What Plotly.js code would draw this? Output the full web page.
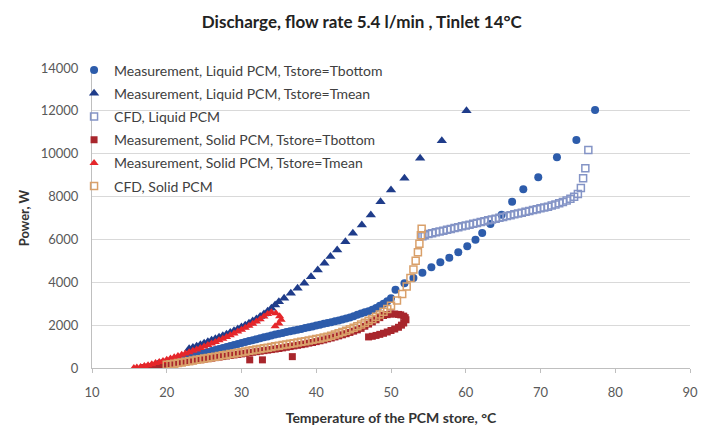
<!DOCTYPE html>
<html><head><meta charset="utf-8">
<script src="https://cdn.plot.ly/plotly-3.0.1.min.js"></script>
<style>html,body{margin:0;padding:0;background:#fff}#chart{width:704px;height:435px}</style>
</head><body><div id="chart"></div>
<script>
// Measurement, Liquid PCM, Tstore=Tbottom
const liqBotX = [19,19.5,20,20.5,21,21.5,22,22.5,23,23.5,24,24.5,25,25.5,26,26.5,27,27.5,28,28.5,29,29.5,30,30.5,31,31.5,32,32.5,33,33.5,34,34.5,35,35.5,36,36.5,37,37.5,38,38.5,39,39.5,40,40.5,41,41.5,42,42.5,43,43.5,44,44.5,45,45.5,46,46.5,47,47.5,48,48.5,49,49.5,50,
  50.6,51.8,53.0,54.2,55.4,56.6,57.8,59.0,60.2,61.3,62.2,63.3,64.8,66.2,67.7,69.7,72.2,74.8,77.3];
const liqBotY = [200,235,270,305,340,380,420,465,510,555,600,650,700,745,790,840,885,935,980,1025,1070,1120,1165,1210,1260,1300,1345,1390,1430,1475,1520,1560,1600,1635,1675,1710,1750,1790,1825,1865,1900,1940,1980,2020,2060,2100,2140,2180,2220,2265,2310,2360,2420,2480,2540,2600,2650,2720,2800,2900,3000,3120,3250,
  3650,3950,4200,4450,4700,4930,5150,5400,5680,5980,6300,6720,7150,7760,8340,8900,9830,10640,12040];

// Measurement, Liquid PCM, Tstore=Tmean
const liqMeanX = [23,23.5,24,24.5,25,25.5,26,26.5,27,27.5,28,28.5,29,29.5,30,30.5,31,31.5,32,32.5,33,33.5,34,34.5,35,
  35.7,36.6,37.5,38.4,39.3,40.2,41.1,41.9,42.8,43.9,44.9,46.1,47.3,48.6,50.0,51.8,53.9,56.8,60.1];
const liqMeanY = [900,960,1020,1090,1160,1230,1300,1370,1440,1510,1580,1660,1740,1820,1910,2000,2090,2190,2290,2400,2520,2650,2790,2940,3090,
  3250,3490,3720,3950,4260,4570,4890,5200,5510,5890,6290,6670,7140,7760,8310,8850,9790,10610,12010];

// CFD, Liquid PCM
const cfdLiqX = [54.2,54.5,55,55.5,56,56.5,57,57.5,58,58.5,59,59.5,60,60.5,61,61.5,62,62.5,63,63.5,64,64.5,65,65.5,66,66.5,67,67.5,68,68.5,69,69.5,70,70.5,71,71.5,72,72.5,73,73.5,74,74.5,75,75.4,75.7,76.0,76.4];
const cfdLiqY = [6150,6200,6250,6290,6330,6370,6410,6450,6490,6530,6570,6610,6650,6690,6730,6770,6810,6850,6890,6930,6970,7010,7050,7090,7130,7170,7210,7250,7290,7330,7370,7410,7450,7490,7530,7580,7630,7690,7750,7820,7900,7990,8120,8400,8850,9320,10170];

// Measurement, Solid PCM, Tstore=Tbottom
const solBotX = [47,47.5,48,48.5,49,49.5,50,50.5,51,51.4,51.7,52,51.9,51.7,51.3,51,50.5,50,49.5,49,48.5,48,47.5,47,46.5,46,45.5,45,44.5,44,43.5,43,42.5,42,41.5,41,40.5,40,39.5,39,38.5,38,37.5,37,36.8,36.5,36,35.5,35,34.5,34,33.5,33,32.8,32.5,32,31.5,31.1,31,30.5,30,29.5,29,28.5,28,27.5,27,26.5,26,25.5,25,24.5,24,23.5,23,22.5,22,21.5,21,20.5,20,19.5,19,18.5,18,17.5,17];
const solBotY = [1450,1480,1520,1570,1620,1680,1750,1820,1900,2000,2100,2250,2350,2420,2480,2500,2520,2520,2490,2450,2350,2250,2150,2050,1950,1850,1780,1720,1660,1600,1550,1500,1450,1400,1360,1310,1270,1230,1190,1160,1120,1090,1060,1030,530,1000,970,940,910,885,860,835,810,380,785,760,735,380,710,685,660,635,610,585,560,535,510,485,460,435,410,385,360,335,310,285,260,235,210,185,160,135,110,85,60,40,20];

// Measurement, Solid PCM, Tstore=Tmean
const solMeanX = [34.5,35.0,35.3,35.1,34.6,34.0,33.5,33.0,32.5,32,31.5,31,30.5,30,29.5,29,28.5,28,27.5,27,26.5,26,25.5,25,24.5,24,23.5,23,22.5,22,21.5,21,20.5,20,19.5,19,18.5,18,17.5,17,16.5,16,15.6];
const solMeanY = [1950,2080,2250,2420,2560,2600,2520,2400,2280,2170,2070,1970,1880,1790,1700,1610,1530,1450,1370,1290,1210,1140,1070,1000,930,860,800,740,680,620,560,500,440,380,330,280,230,180,130,90,50,20,0];

// CFD, Solid PCM
const cfdSolX = [54.1,54.0,53.8,53.6,53.3,53.0,52.6,52.1,51.5,50.8,50,49.5,49,48.5,48,47.5,47,46.5,46,45.5,45,44.5,44,43.5,43,42.5,42,41.5,41,40.5,40,39.5,39,38.5,38,37.5,37,36.5,36,35.5,35,34.5,34,33.5,33,32.5,32,31.5,31,30.5,30,29.5,29,28.5,28,27.5,27,26.5,26,25.5,25,24.5,24,23.5,23,22.5,22,21.5,21,20.5,20];
const cfdSolY = [6500,6200,5800,5400,5000,4600,4200,3800,3450,3150,2900,2750,2620,2500,2390,2290,2200,2110,2030,1950,1880,1810,1740,1680,1620,1560,1500,1460,1420,1380,1350,1320,1280,1250,1220,1190,1160,1130,1100,1070,1040,1010,980,950,920,890,860,830,800,770,740,710,680,650,620,590,560,530,500,470,440,410,380,350,320,290,260,230,200,175,150];

const seriesNames = [
  'Measurement, Liquid PCM, Tstore=Tbottom',
  'Measurement, Liquid PCM, Tstore=Tmean',
  'CFD, Liquid PCM',
  'Measurement, Solid PCM, Tstore=Tbottom',
  'Measurement, Solid PCM, Tstore=Tmean',
  'CFD, Solid PCM'
];
const xTicks = [10,20,30,40,50,60,70,80,90];
const yTicks = [0,2000,4000,6000,8000,10000,12000,14000];

const FONT = 'Lato, "Open Sans", "DejaVu Sans", sans-serif';

const traces = [
  {x: liqBotX, y: liqBotY, name: seriesNames[0], legendgroup: 'g1', mode: 'markers', type: 'scatter',
   marker: {symbol: 'circle', size: 8, color: '#2D5CAB'}},
  {x: liqMeanX, y: liqMeanY, name: seriesNames[1], legendgroup: 'g2', mode: 'markers', type: 'scatter',
   marker: {symbol: 'triangle-up', size: 9, color: '#1F3C8A'}},
  {x: cfdLiqX, y: cfdLiqY, name: seriesNames[2], legendgroup: 'g3', mode: 'markers', type: 'scatter',
   marker: {symbol: 'square-open', size: 7, color: '#8494C6', line: {width: 1.5}}},
  {x: solBotX, y: solBotY, name: seriesNames[3], legendgroup: 'g4', mode: 'markers', type: 'scatter',
   marker: {symbol: 'square', size: 7, color: '#A8262C'}},
  {x: solMeanX, y: solMeanY, name: seriesNames[4], legendgroup: 'g5', mode: 'markers', type: 'scatter',
   marker: {symbol: 'triangle-up', size: 8, color: '#E5262A'}},
  {x: cfdSolX, y: cfdSolY, name: seriesNames[5], legendgroup: 'g6', mode: 'markers', type: 'scatter',
   marker: {symbol: 'square-open', size: 7, color: '#D9A06A', line: {width: 1.5}}}
];

const layout = {
  width: 704, height: 435,
  margin: {l: 92, r: 14, t: 68, b: 67},
  paper_bgcolor: '#ffffff', plot_bgcolor: '#ffffff',
  font: {family: FONT, size: 13, color: '#404040'},
  title: {text: 'Discharge, flow rate 5.4 l/min , Tinlet 14°C', x: 0.514, xanchor: 'center', y: 0.95, yanchor: 'middle',
          font: {family: FONT, size: 17, color: '#222222', weight: 'bold'}},
  xaxis: {range: [10, 90], tickvals: xTicks, ticktext: xTicks.map(String), showgrid: false, zeroline: false,
          showline: true, linecolor: '#BFBFBF', linewidth: 1, ticks: 'outside', ticklen: 4, tickcolor: '#BFBFBF',
          ticklabelstandoff: 8, tickfont: {size: 13, color: '#595959'},
          title: {text: 'Temperature of the PCM store, °C', font: {size: 14, color: '#333333', weight: 'bold'}, standoff: 14}},
  yaxis: {range: [0, 14000], tickvals: yTicks, ticktext: yTicks.map(String), showgrid: true, gridcolor: '#D9D9D9', gridwidth: 1,
          zeroline: false, showline: true, linecolor: '#BFBFBF', linewidth: 1,
          ticks: '', ticklabelstandoff: 10, tickfont: {size: 13, color: '#595959'},
          title: {text: 'Power, W', font: {size: 13, color: '#333333', weight: 'bold'}, standoff: 8}},
  legend: {x: -0.03, xanchor: 'left', y: 1.045, yanchor: 'top', bgcolor: 'rgba(255,255,255,0)',
           traceorder: 'grouped', tracegroupgap: 2,
           font: {family: FONT, size: 14, color: '#404040'}},
  showlegend: true
};

Plotly.newPlot('chart', traces, layout, {displayModeBar: false, staticPlot: true});
</script>
</body></html>
